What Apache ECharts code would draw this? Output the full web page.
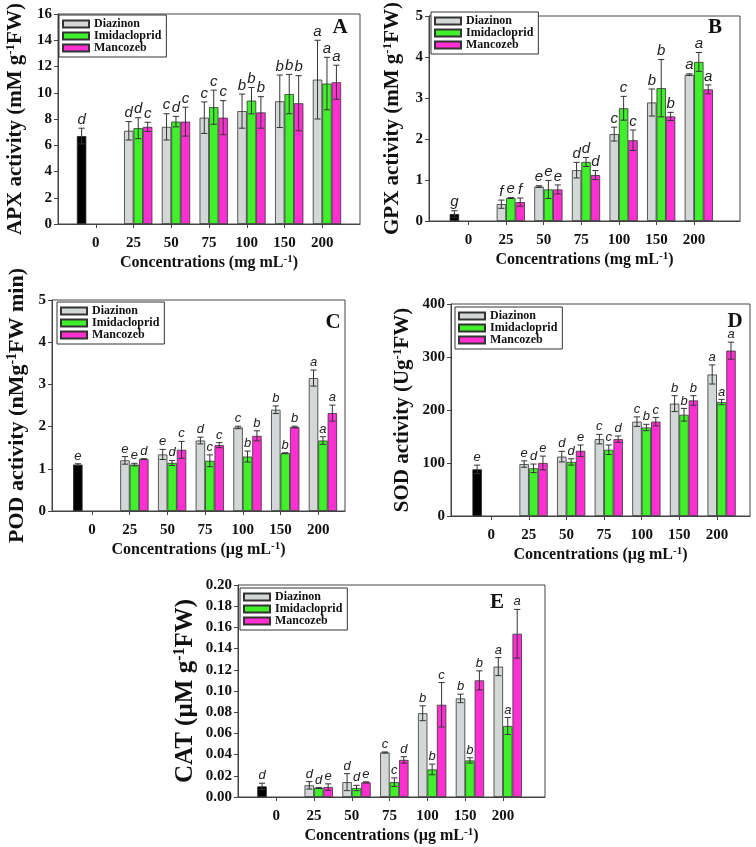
<!DOCTYPE html>
<html><head><meta charset="utf-8">
<script src="https://cdn.jsdelivr.net/npm/echarts@6/dist/echarts.min.js"></script>
<style>html,body{margin:0;padding:0;background:#fff}#c{width:756px;height:847px}</style>
</head><body><div id="c"></div>
<script>
// ---------- data ----------
const categories = ['0', '25', '50', '75', '100', '150', '200'];
const seriesNames = ['Diazinon', 'Imidacloprid', 'Mancozeb'];

// A: APX
const apxControl = [6.7, 0.6, 'd'];
const apxDiazinon = [7.1, 7.4, 8.1, 8.6, 9.35, 11.0];
const apxDiazinonErr = [0.7, 1.0, 1.2, 1.3, 2.0, 3.0];
const apxDiazinonLet = ['d', 'c', 'c', 'b', 'b', 'a'];
const apxImidacloprid = [7.3, 7.8, 8.9, 9.4, 9.9, 10.7];
const apxImidaclopridErr = [0.8, 0.4, 1.3, 1.0, 1.5, 2.0];
const apxImidaclopridLet = ['d', 'd', 'c', 'b', 'b', 'a'];
const apxMancozeb = [7.4, 7.8, 8.1, 8.5, 9.2, 10.8];
const apxMancozebErr = [0.35, 1.1, 1.3, 1.2, 2.1, 1.3];
const apxMancozebLet = ['c', 'c', 'c', 'b', 'b', 'a'];

// B: GPX
const gpxControl = [0.17, 0.08, 'g'];
const gpxDiazinon = [0.41, 0.84, 1.24, 2.12, 2.89, 3.57];
const gpxDiazinonErr = [0.1, 0.02, 0.19, 0.17, 0.33, 0.02];
const gpxDiazinonLet = ['f', 'e', 'd', 'c', 'b', 'a'];
const gpxImidacloprid = [0.56, 0.77, 1.44, 2.75, 3.24, 3.88];
const gpxImidaclopridErr = [0.01, 0.22, 0.11, 0.29, 0.7, 0.23];
const gpxImidaclopridLet = ['e', 'e', 'd', 'c', 'b', 'a'];
const gpxMancozeb = [0.46, 0.77, 1.12, 1.97, 2.55, 3.21];
const gpxMancozebErr = [0.1, 0.11, 0.11, 0.25, 0.1, 0.11];
const gpxMancozebLet = ['f', 'e', 'd', 'c', 'b', 'a'];

// C: POD
const podControl = [1.1, 0.02, 'e'];
const podDiazinon = [1.2, 1.34, 1.67, 1.98, 2.4, 3.15];
const podDiazinonErr = [0.09, 0.12, 0.08, 0.03, 0.09, 0.19];
const podDiazinonLet = ['e', 'e', 'd', 'c', 'b', 'a'];
const podImidacloprid = [1.1, 1.14, 1.19, 1.29, 1.37, 1.67];
const podImidaclopridErr = [0.03, 0.06, 0.14, 0.13, 0.01, 0.09];
const podImidaclopridLet = ['e', 'd', 'c', 'b', 'b', 'a'];
const podMancozeb = [1.23, 1.45, 1.56, 1.78, 1.99, 2.32];
const podMancozebErr = [0.01, 0.2, 0.06, 0.12, 0.02, 0.19];
const podMancozebLet = ['d', 'c', 'c', 'b', 'b', 'a'];

// D: SOD
const sodControl = [88, 8, 'e'];
const sodDiazinon = [98, 112, 145, 178, 212, 267];
const sodDiazinonErr = [6, 10, 9, 9, 15, 18];
const sodDiazinonLet = ['e', 'd', 'c', 'c', 'b', 'a'];
const sodImidacloprid = [90, 102, 125, 167, 191, 215];
const sodImidaclopridErr = [8, 6, 9, 6, 12, 5];
const sodImidaclopridLet = ['d', 'd', 'c', 'b', 'b', 'a'];
const sodMancozeb = [100, 123, 145, 178, 218, 312];
const sodMancozebErr = [13, 11, 6, 8, 9, 16];
const sodMancozebLet = ['e', 'e', 'd', 'c', 'b', 'a'];

// E: CAT
const catControl = [0.010, 0.003, 'd'];
const catDiazinon = [0.011, 0.014, 0.042, 0.079, 0.093, 0.123];
const catDiazinonErr = [0.0035, 0.008, 0.0005, 0.007, 0.004, 0.0085];
const catDiazinonLet = ['d', 'd', 'c', 'b', 'b', 'a'];
const catImidacloprid = [0.0085, 0.0085, 0.014, 0.026, 0.0345, 0.067];
const catImidaclopridErr = [0.0005, 0.0025, 0.004, 0.005, 0.0025, 0.008];
const catImidaclopridLet = ['d', 'd', 'c', 'b', 'b', 'a'];
const catMancozeb = [0.0094, 0.0138, 0.035, 0.087, 0.110, 0.154];
const catMancozebErr = [0.003, 0.0005, 0.003, 0.021, 0.009, 0.023];
const catMancozebLet = ['e', 'e', 'd', 'c', 'b', 'a'];

// ---------- layout / style ----------
const SERIF = '"Liberation Serif", "Times New Roman", serif';
const SANS = '"Liberation Sans", Arial, sans-serif';
const INK = '#111';
const AXIS = '#444';
const BAR_COLORS = ['#d3d7d7', '#3ff02a', '#ff30d2'];

const panels = [
  { tag: 'A', grid: [58, 14, 302, 210], xr: [-1, 7], ymax: 16, yint: 2, ydec: 0,
    yname: ['APX activity (mM g', '-1', 'FW)'], yGap: 30, yFont: 21, unit: 'mg', letSize: 15,
    legend: [59, 15], tagPos: [340, 28],
    control: apxControl,
    vals: [apxDiazinon, apxImidacloprid, apxMancozeb],
    errs: [apxDiazinonErr, apxImidaclopridErr, apxMancozebErr],
    lets: [apxDiazinonLet, apxImidaclopridLet, apxMancozebLet] },
  { tag: 'B', grid: [429, 8, 311, 213], xr: [-1.05, 7.22], ymax: 5, yint: 1, ydec: 0,
    yname: ['GPX activity (mM g', '-1', 'FW)'], yGap: 24, yFont: 21, unit: 'mg', letSize: 15,
    legend: [431, 12], tagPos: [715, 28],
    control: gpxControl,
    vals: [gpxDiazinon, gpxImidacloprid, gpxMancozeb],
    errs: [gpxDiazinonErr, gpxImidaclopridErr, gpxMancozebErr],
    lets: [gpxDiazinonLet, gpxImidaclopridLet, gpxMancozebLet] },
  { tag: 'C', grid: [52, 300, 293, 211], xr: [-1.06, 6.71], ymax: 5, yint: 1, ydec: 0,
    yname: ['POD activity (nMg', '-1', 'FW min)'], yGap: 22, yFont: 22, unit: 'µg', letSize: 13,
    legend: [57, 302], tagPos: [333, 323],
    control: podControl,
    vals: [podDiazinon, podImidacloprid, podMancozeb],
    errs: [podDiazinonErr, podImidaclopridErr, podMancozebErr],
    lets: [podDiazinonLet, podImidaclopridLet, podMancozebLet] },
  { tag: 'D', grid: [451, 304, 299, 212], xr: [-1.07, 6.88], ymax: 400, yint: 100, ydec: 0,
    yname: ['SOD activity (Ug', '-1', 'FW)'], yGap: 36, yFont: 21, unit: 'µg', letSize: 13,
    legend: [455, 307], tagPos: [735, 322],
    control: sodControl,
    vals: [sodDiazinon, sodImidacloprid, sodMancozeb],
    errs: [sodDiazinonErr, sodImidaclopridErr, sodMancozebErr],
    lets: [sodDiazinonLet, sodImidaclopridLet, sodMancozebLet] },
  { tag: 'E', grid: [238, 585, 307, 212], xr: [-1.01, 7.11], ymax: 0.2, yint: 0.02, ydec: 2,
    yname: ['CAT (µM g', '-1', 'FW)'], yGap: 38, yFont: 25, unit: 'µg', letSize: 13,
    legend: [240, 588], tagPos: [497, 603],
    control: catControl,
    vals: [catDiazinon, catImidacloprid, catMancozeb],
    errs: [catDiazinonErr, catImidaclopridErr, catMancozebErr],
    lets: [catDiazinonLet, catImidaclopridLet, catMancozebLet] }
];

const grids = [], xAxes = [], yAxes = [], series = [], legends = [], graphics = [];
const tickIdx = categories.map((c, i) => i);

panels.forEach((p, k) => {
  grids.push({ left: p.grid[0], top: p.grid[1], width: p.grid[2], height: p.grid[3],
    show: true, borderColor: AXIS, borderWidth: 1, backgroundColor: 'transparent' });

  xAxes.push({
    type: 'value', gridIndex: k, min: p.xr[0], max: p.xr[1],
    axisLine: { show: true, onZero: false, lineStyle: { color: AXIS, width: 1 } },
    axisTick: { show: true, length: 4, inside: false, customValues: tickIdx, lineStyle: { color: AXIS } },
    axisLabel: { customValues: tickIdx, formatter: v => categories[Math.round(v)],
      fontFamily: SERIF, fontWeight: 'bold', fontSize: 15, color: INK, margin: 12 },
    splitLine: { show: false },
    name: '{a|Concentrations (' + p.unit + ' mL}{s|-1}{a|)}',
    nameLocation: 'middle', nameGap: 30,
    nameTextStyle: { rich: {
      a: { fontFamily: SERIF, fontWeight: 'bold', fontSize: 16, color: INK, lineHeight: 18 },
      s: { fontFamily: SERIF, fontWeight: 'bold', fontSize: 11, color: INK, verticalAlign: 'top', lineHeight: 11 } } }
  });

  const supSize = Math.round(p.yFont * 0.62);
  yAxes.push({
    type: 'value', gridIndex: k, min: 0, max: p.ymax, interval: p.yint,
    axisLine: { show: true, onZero: false, lineStyle: { color: AXIS, width: 1 } },
    axisTick: { show: true, length: 4, lineStyle: { color: AXIS } },
    axisLabel: { formatter: v => v.toFixed(p.ydec), fontFamily: SERIF, fontWeight: 'bold',
      fontSize: 15, color: INK, margin: 6 },
    splitLine: { show: false },
    name: '{a|' + p.yname[0] + '}{s|' + p.yname[1] + '}{a|' + p.yname[2] + '}',
    nameLocation: 'middle', nameRotate: 90, nameGap: p.yGap,
    nameTextStyle: { rich: {
      a: { fontFamily: SERIF, fontWeight: 'bold', fontSize: p.yFont, color: INK, lineHeight: p.yFont + 3 },
      s: { fontFamily: SERIF, fontWeight: 'bold', fontSize: supSize, color: INK, verticalAlign: 'top', lineHeight: supSize } } }
  });

  // control bar (slot 0)
  series.push({ type: 'bar', name: 'Control', xAxisIndex: k, yAxisIndex: k, silent: true,
    data: [[0, p.control[0]]], barGap: '0%', barCategoryGap: '0%',
    itemStyle: { color: '#000', borderColor: '#222', borderWidth: 0.8 } });
  // treatment bars (slots 1..3)
  seriesNames.forEach((nm, s) => {
    series.push({ type: 'bar', name: nm, xAxisIndex: k, yAxisIndex: k, silent: true,
      data: p.vals[s].map((v, i) => [i + 1, v]), barGap: '0%', barCategoryGap: '0%',
      itemStyle: { color: BAR_COLORS[s], borderColor: '#333', borderWidth: 0.8 } });
  });

  // error bars + letters
  const items = [[0, p.control[0], p.control[1], 0]];
  const letters = [p.control[2]];
  seriesNames.forEach((nm, s) => {
    p.vals[s].forEach((v, i) => {
      items.push([i + 1, v, p.errs[s][i], s + 1]);
      letters.push(p.lets[s][i]);
    });
  });
  const letSize = p.letSize;
  series.push({ type: 'custom', xAxisIndex: k, yAxisIndex: k, silent: true, z: 10,
    data: items,
    renderItem: (params, api) => {
      const x = api.value(0), m = api.value(1), e = api.value(2), slot = api.value(3);
      const bw = api.size([1, 0])[0] / 4;
      const cx = api.coord([x, m])[0] + (slot - 1.5) * bw;
      const yt = api.coord([x, m + e])[1];
      const yb = api.coord([x, Math.max(0, m - e)])[1];
      const hw = bw * 0.33;
      const ls = { stroke: '#333', lineWidth: 1 };
      return { type: 'group', children: [
        { type: 'line', shape: { x1: cx, y1: yt, x2: cx, y2: yb }, style: ls },
        { type: 'line', shape: { x1: cx - hw, y1: yt, x2: cx + hw, y2: yt }, style: ls },
        { type: 'line', shape: { x1: cx - hw, y1: yb, x2: cx + hw, y2: yb }, style: ls },
        { type: 'text', x: cx, y: yt - 1, style: { text: letters[params.dataIndex],
          align: 'center', verticalAlign: 'bottom', textAlign: 'center', textVerticalAlign: 'bottom',
          fontFamily: SANS, fontStyle: 'italic', fontSize: letSize, fill: '#222' } }
      ] };
    } });

  legends.push({ data: seriesNames, left: p.legend[0], top: p.legend[1], orient: 'vertical',
    icon: 'rect', itemWidth: 26, itemHeight: 7, itemGap: 0, padding: [3, 5, 3, 3],
    borderColor: '#333', borderWidth: 1, backgroundColor: '#fff', selectedMode: false,
    textStyle: { fontFamily: SERIF, fontWeight: 'bold', fontSize: 12, color: INK, lineHeight: 12 } });

  graphics.push({ type: 'text', x: p.tagPos[0], y: p.tagPos[1], z: 20,
    style: { text: p.tag, fontFamily: SERIF, fontWeight: 'bold', fontSize: 21, fill: INK,
      align: 'center', verticalAlign: 'middle', textAlign: 'center', textVerticalAlign: 'middle' } });
});

const chart = echarts.init(document.getElementById('c'), null, { renderer: 'canvas' });
chart.setOption({
  animation: false,
  backgroundColor: '#fff',
  grid: grids, xAxis: xAxes, yAxis: yAxes, series: series, legend: legends,
  graphic: { elements: graphics }
});
</script></body></html>
